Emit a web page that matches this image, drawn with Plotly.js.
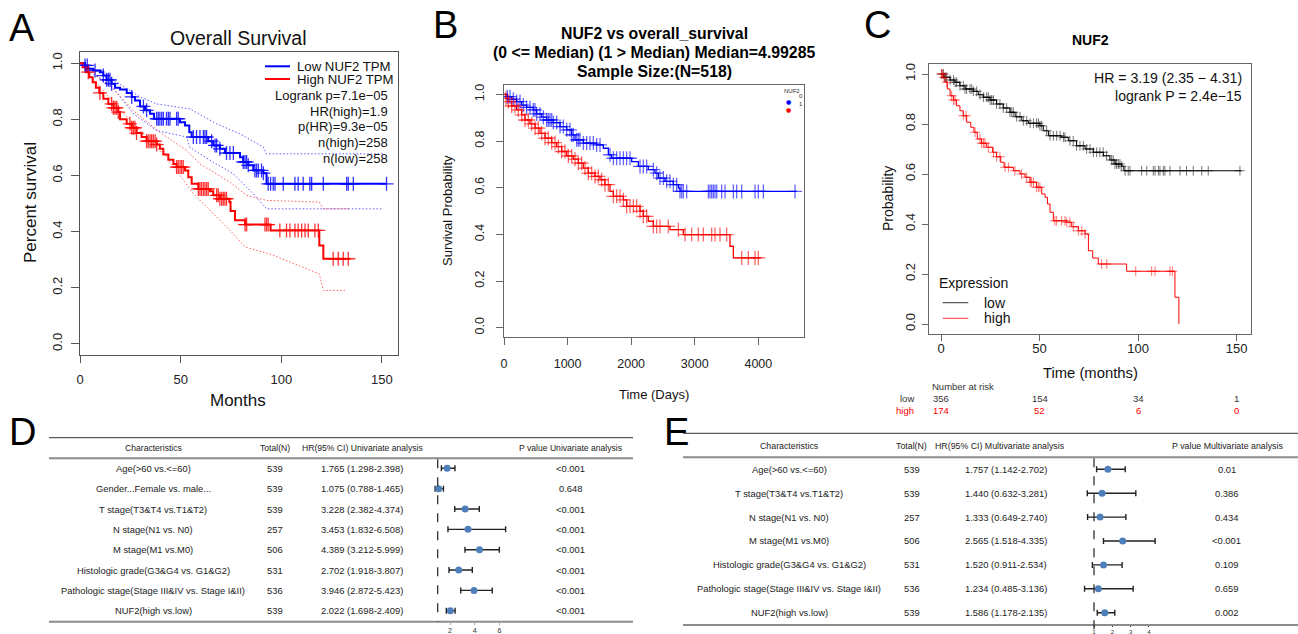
<!DOCTYPE html>
<html><head><meta charset="utf-8">
<script src="https://cdn.plot.ly/plotly-3.0.1.min.js"></script>
<style>html,body{margin:0;padding:0;background:#fff;}#chart{width:1298px;height:634px;}</style>
</head><body><div id="chart"></div>
<script>
// ---------- Panel A (GEPIA, months) ----------
const aLowT=[0,2.5,4.1,6.6,9.9,11.6,13.2,15.7,17.4,19.9,23.2,25.7,27.3,29.8,32.3,34.8,36.8,49.7,52.2,54.3,55.5,63.7,66.2,69.5,72,79.5,81.1,83.6,86.1,91.1,92.7,152.3];
const aLowS=[1,0.992,0.98,0.974,0.968,0.956,0.941,0.927,0.913,0.906,0.894,0.88,0.867,0.846,0.832,0.82,0.802,0.79,0.778,0.754,0.737,0.722,0.707,0.695,0.68,0.665,0.648,0.636,0.618,0.608,0.57,0.57];
const aHighT=[0,1.3,3,4.6,6.3,7.9,9.6,11.6,14.1,16.6,19,19.9,23.2,25.7,28.1,30.6,33.1,38.1,39.7,41.4,43.9,46.4,48,52.2,53.8,55.5,58.8,64.6,66.2,69.5,74.2,74.8,77,82,94.7,118.9,120.9,134.4];
const aHighS=[1,0.986,0.968,0.95,0.932,0.913,0.894,0.873,0.855,0.841,0.826,0.80,0.784,0.77,0.751,0.737,0.722,0.71,0.695,0.675,0.656,0.641,0.63,0.618,0.594,0.57,0.552,0.544,0.529,0.517,0.505,0.473,0.44,0.425,0.404,0.35,0.303,0.303];
const aLowUpT=[0,3.3,16.6,29.8,38.1,53,54.6,67.9,79.5,91.1,92.7,150.7];
const aLowUpS=[1,0.99,0.94,0.88,0.855,0.84,0.837,0.784,0.748,0.701,0.677,0.677];
const aLowLoT=[0,3.3,9.9,16.6,26.5,38.1,53,54.6,66.2,76.2,86.1,92.7,150.7];
const aLowLoS=[1,0.975,0.948,0.909,0.82,0.76,0.737,0.70,0.647,0.606,0.535,0.481,0.481];
const aHighUpT=[0,3.3,9.9,16.6,26.5,39.7,53,59.6,74.5,82.8,92.7,118.9,120.9,134.4];
const aHighUpS=[1,0.986,0.944,0.909,0.831,0.754,0.689,0.641,0.576,0.529,0.511,0.505,0.481,0.481];
const aHighLoT=[0,3.3,9.9,16.6,29.8,43,56.3,66.2,76.2,82,95.2,118.9,120.9,131.6];
const aHighLoS=[1,0.968,0.915,0.861,0.76,0.665,0.535,0.463,0.392,0.345,0.318,0.249,0.19,0.19];
const aLowCens=[2.5,3.6,7.5,11.6,13.2,14.1,14.9,15.7,25.7,31.5,33.1,38.1,38.9,39.7,40.6,41.4,43.0,43.9,44.7,48.0,48.8,56.3,57.9,59.6,61.3,62.1,62.9,65.4,67.1,67.9,69.5,72.8,74.5,76.2,81.1,82.0,82.8,83.6,86.9,87.7,88.6,90.2,91.1,93.5,94.7,96.0,96.9,101,106.8,108.4,110.9,114.2,115.1,120.9,132.5,133.3,135.8,152.3];
const aHighCens=[4.1,9.9,15.7,16.6,17.4,18.2,19.0,24.8,25.7,26.5,27.3,28.1,33.1,33.9,34.8,35.6,36.4,37.3,38.1,48.0,48.8,49.7,50.5,51.3,58.8,59.6,60.4,61.3,62.1,62.9,63.7,67.9,68.7,69.5,70.4,71.2,72.0,72.8,82.0,82.8,91.9,92.7,93.5,99.3,102.6,104.3,106.8,108.4,110.1,111.8,113.4,116.7,118.4,125.8,128.3,130.8,133.3];
const aTicksX=[0,50,100,150];
const probTicks=[0,0.2,0.4,0.6,0.8,1.0];
const probLabels=['0.0','0.2','0.4','0.6','0.8','1.0'];
const aLegend=['Low NUF2 TPM','High NUF2 TPM'];
const aStats=['Logrank p=7.1e\u221205','HR(high)=1.9','p(HR)=9.3e\u221205','n(high)=258','n(low)=258'];

// ---------- Panel B (days) ----------
const bLowT=[0,52,121,199,278,356,461,514,592,671,776,881,986,1064,1117,1248,1457,1562,1641,1693,2008,2113,2270,2375,2427,2532,2663,2742,2768,4603];
const bLowS=[1,0.99,0.979,0.969,0.954,0.944,0.933,0.916,0.902,0.89,0.879,0.862,0.848,0.826,0.805,0.791,0.783,0.769,0.741,0.726,0.712,0.691,0.677,0.662,0.641,0.627,0.613,0.598,0.584,0.584];
const bHighT=[0,31,68,121,199,278,330,409,488,566,645,750,828,907,986,1090,1169,1248,1326,1431,1510,1588,1667,1720,1877,1929,2139,2191,2270,2349,2611,2820,3554,3607,4037];
const bHighS=[1,0.983,0.969,0.95,0.933,0.912,0.89,0.873,0.855,0.833,0.812,0.793,0.776,0.755,0.736,0.722,0.705,0.684,0.662,0.648,0.634,0.613,0.584,0.563,0.548,0.52,0.499,0.477,0.456,0.434,0.42,0.399,0.349,0.299,0.299];
const bLowCens=[52,94,147,199,252,304,356,409,461,488,514,566,619,671,697,723,750,776,828,881,933,986,1038,1064,1090,1143,1169,1195,1248,1300,1352,1405,1457,1510,1667,1720,1772,1824,1877,1929,1982,2139,2191,2244,2349,2401,2453,2506,2558,2611,2663,2716,2768,2794,2820,2873,3214,3240,3266,3292,3318,3345,3423,3476,3607,3659,3738,3948,4000,4079,4577];
const bHighCens=[31,68,121,173,225,278,330,383,435,488,540,592,645,697,750,802,855,907,959,1012,1064,1117,1169,1221,1274,1326,1379,1431,1484,1536,1588,1641,1720,1772,1824,1877,1929,1982,2034,2086,2139,2191,2244,2349,2401,2453,2584,2742,2847,2951,3056,3135,3266,3318,3397,3502,3738,3843,3948,4000];
const bTicksX=[0,1000,2000,3000,4000];
const bTitle=['NUF2 vs overall_survival','(0 <= Median) (1 > Median) Median=4.99285','Sample Size:(N=518)'];
const bLegend=['NUF2','0','1'];

// ---------- Panel C (KM plotter, months) ----------
const cLowT=[0,2,4.6,7.1,9.6,12.2,16.4,18.9,21.5,24.9,28.2,31.6,35,37.6,41,44.3,50.2,51.9,54.5,61.2,64.6,68.8,73.1,77.3,82.4,85.7,88.3,91.7,92.8,152.5];
const cLowS=[1,0.987,0.976,0.967,0.953,0.94,0.931,0.917,0.907,0.896,0.88,0.864,0.847,0.829,0.813,0.803,0.793,0.773,0.753,0.747,0.733,0.713,0.7,0.687,0.673,0.656,0.64,0.631,0.613,0.613];
const cHighT=[0,1.2,2,3.2,4.6,6.3,7.9,9.6,11.3,13,15.1,16.7,18.4,20.6,23.2,26.2,28.2,30.3,32,36.7,40.1,42.6,45.2,48.5,51.1,52.8,54,55.3,57,63.8,66.3,69.7,73.1,74.8,77,79.8,94.2,118.7,120.7];
const cHighS=[1,0.987,0.967,0.94,0.913,0.896,0.873,0.853,0.833,0.807,0.787,0.767,0.74,0.723,0.707,0.687,0.669,0.647,0.627,0.613,0.6,0.587,0.567,0.547,0.52,0.507,0.48,0.447,0.413,0.407,0.389,0.373,0.36,0.293,0.264,0.24,0.211,0.107,0];
const cLowCens=[0.3,1.2,2.0,2.9,4.6,6.3,7.1,7.9,9.6,11.3,12.2,13.0,14.7,15.6,16.4,18.1,19.8,21.5,23.2,24.0,24.9,25.7,26.6,28.2,29.9,31.6,33.3,35.0,35.9,36.7,38.4,40.1,41.8,43.5,45.2,46.9,48.5,49.4,50.2,51.1,53.6,55.3,57.0,58.7,60.4,62.1,62.9,65.4,67.1,68.8,70.5,72.2,73.9,75.6,77.3,79.0,80.6,82.3,84.0,86.6,87.4,88.3,89.1,90.0,90.8,91.7,93.4,95.0,95.9,101.8,104.4,107.7,108.6,110.3,111.1,112.8,113.6,116.2,121.3,124.6,128.0,132.3,135.6,151.7];
const cHighCens=[0.3,0.8,1.5,2.9,5.4,6.3,7.1,11.3,12.7,17.3,19.8,20.6,21.5,22.3,24.0,26.6,28.2,29.9,32.5,34.2,37.5,40.9,43.5,45.2,46.0,46.9,48.5,49.4,50.2,57.8,58.7,61.2,62.9,63.8,65.4,67.1,69.7,71.4,73.1,81.5,84.1,98.8,106.9,108.6,116.2,117.4];
const cTicksX=[0,50,100,150];
const cStats=['HR = 3.19 (2.35 \u2212 4.31)','logrank P = 2.4e\u221215'];
const cLegend=['Expression','low','high'];
const riskTimes=[0,50,100,150];
const riskLow=[356,154,34,1];
const riskHigh=[174,52,6,0];

// ---------- Panel D (univariate Cox) ----------
const dHeaders=['Characteristics','Total(N)','HR(95% CI) Univariate analysis','P value Univariate analysis'];
const dCats=['Age(>60 vs.<=60)','Gender...Female vs. male...','T stage(T3&T4 vs.T1&T2)','N stage(N1 vs. N0)','M stage(M1 vs.M0)','Histologic grade(G3&G4 vs. G1&G2)','Pathologic stage(Stage III&IV vs. Stage I&II)','NUF2(high vs.low)'];
const dN=[539,539,539,257,506,531,536,539];
const dHR=[1.765,1.075,3.228,3.453,4.389,2.702,3.946,2.022];
const dLo=[1.298,0.788,2.382,1.832,3.212,1.918,2.872,1.698];
const dHi=[2.398,1.465,4.374,6.508,5.999,3.807,5.423,2.409];
const dP=['<0.001','0.648','<0.001','<0.001','<0.001','<0.001','<0.001','<0.001'];
const dTicks=[2,4,6];

// ---------- Panel E (multivariate Cox) ----------
const eHeaders=['Characteristics','Total(N)','HR(95% CI) Multivariate analysis','P value Multivariate analysis'];
const eCats=['Age(>60 vs.<=60)','T stage(T3&T4 vs.T1&T2)','N stage(N1 vs. N0)','M stage(M1 vs.M0)','Histologic grade(G3&G4 vs. G1&G2)','Pathologic stage(Stage III&IV vs. Stage I&II)','NUF2(high vs.low)'];
const eN=[539,539,257,506,531,536,539];
const eHR=[1.757,1.440,1.333,2.565,1.520,1.234,1.586];
const eLo=[1.142,0.632,0.649,1.518,0.911,0.485,1.178];
const eHi=[2.702,3.281,2.740,4.335,2.534,3.136,2.135];
const eP=['0.01','0.386','0.434','<0.001','0.109','0.659','0.002'];
const eTicks=[1,2,3,4];

// ---------- drawing ----------
const W=1298,H=634;
const px=x=>x/W, py=y=>1-y/H;
const FONT='Liberation Sans, Arial, Helvetica, sans-serif';
const esc=s=>String(s).replace(/&/g,'&amp;').replace(/</g,'&lt;').replace(/>/g,'&gt;');
function stepAt(T,S,t){let v=S[0];for(let i=0;i<T.length;i++){if(T[i]<=t)v=S[i];else break;}return v;}

const traces=[];
function line(T,S,color,width,xa,ya,dash,shape){traces.push({x:T,y:S,mode:'lines',line:{color:color,width:width,shape:shape||'hv',dash:dash||'solid'},xaxis:xa,yaxis:ya,hoverinfo:'skip',showlegend:false});}
function cens(T,S,ct,color,size,lw,xa,ya){traces.push({x:ct,y:ct.map(t=>stepAt(T,S,t)),mode:'markers',marker:{symbol:'cross-thin-open',size:size,color:color,line:{color:color,width:lw}},xaxis:xa,yaxis:ya,hoverinfo:'skip',showlegend:false});}

const DOTS='1.5px,2px';
// A
line(aLowUpT,aLowUpS,'rgba(40,40,255,0.75)',1,'x','y',DOTS,'linear');
line(aLowLoT,aLowLoS,'rgba(40,40,255,0.75)',1,'x','y',DOTS,'linear');
line(aHighUpT,aHighUpS,'rgba(255,40,40,0.75)',1,'x','y',DOTS,'linear');
line(aHighLoT,aHighLoS,'rgba(255,40,40,0.75)',1,'x','y',DOTS,'linear');
line(aLowT,aLowS,'#0000ff',2,'x','y');
line(aHighT,aHighS,'#ff0000',2,'x','y');
cens(aLowT,aLowS,aLowCens,'rgba(0,0,255,0.8)',10,1.3,'x','y');
cens(aHighT,aHighS,aHighCens,'rgba(255,0,0,0.8)',10,1.3,'x','y');
// B
line(bLowT,bLowS,'#0000ff',1.3,'x2','y2');
line(bHighT,bHighS,'#ff0000',1.3,'x2','y2');
cens(bLowT,bLowS,bLowCens,'rgba(0,0,255,0.6)',10,1.3,'x2','y2');
cens(bHighT,bHighS,bHighCens,'rgba(255,0,0,0.6)',10,1.3,'x2','y2');
// C
line(cLowT,cLowS,'#000000',1,'x3','y3');
line(cHighT,cHighS,'#ff0000',1,'x3','y3');
cens(cLowT,cLowS,cLowCens,'rgba(0,0,0,0.55)',7,1,'x3','y3');
cens(cHighT,cHighS,cHighCens,'rgba(255,0,0,0.55)',7,1,'x3','y3');
// D, E forest
function forest(hr,lo,hi,xa,ya){traces.push({x:hr,y:hr.map((v,i)=>i),mode:'markers',marker:{color:'#4f7fba',size:7},
  error_x:{type:'data',symmetric:false,array:hr.map((v,i)=>hi[i]-v),arrayminus:hr.map((v,i)=>v-lo[i]),color:'#222',thickness:1.4,width:3},
  xaxis:xa,yaxis:ya,hoverinfo:'skip',showlegend:false});}
forest(dHR,dLo,dHi,'x4','y4');
forest(eHR,eLo,eHi,'x5','y5');

function kmX(dom,range,ticks,anchor,lc,tl,fs,so){return {domain:[px(dom[0]),px(dom[1])],range:range,anchor:anchor,tickvals:ticks,ticktext:ticks.map(String),
  showline:true,mirror:true,linecolor:lc,linewidth:1,ticks:'outside',ticklen:tl,tickcolor:lc,tickwidth:1,showgrid:false,zeroline:false,
  tickfont:{family:FONT,size:fs,color:'#222'},ticklabelstandoff:so,fixedrange:true};}
function kmY(dom,anchor,lc,tl,fs,so){return {domain:[py(dom[1]),py(dom[0])],range:[-0.04,1.04],anchor:anchor,tickvals:probTicks,ticktext:probLabels,tickangle:-90,
  showline:true,mirror:true,linecolor:lc,linewidth:1,ticks:'outside',ticklen:tl,tickcolor:lc,tickwidth:1,showgrid:false,zeroline:false,
  tickfont:{family:FONT,size:fs,color:'#222'},ticklabelstandoff:so,fixedrange:true};}

const layout={width:W,height:H,margin:{l:0,r:0,t:0,b:0},paper_bgcolor:'#fff',plot_bgcolor:'rgba(0,0,0,0)',showlegend:false,hovermode:false,
  xaxis:kmX([80,398],[0,158],aTicksX,'y','#555',7,13,5),
  yaxis:kmY([52,355],'x','#555',8,13,4),
  xaxis2:kmX([504,804],[0,4718],bTicksX,'y2','#666',7,12.5,8),
  yaxis2:kmY([85,337],'x2','#666',7,12.5,7),
  xaxis3:kmX([929,1251],[-6.1,157.3],cTicksX,'y3','#666',6,13,-4),
  yaxis3:kmY([64,334],'x3','#666',6,13,2),
  xaxis4:{domain:[px(400),px(540)],range:[-2.058,9.297],anchor:'y4',tickvals:dTicks,ticktext:dTicks.map(String),showline:false,showgrid:false,zeroline:false,ticks:'outside',ticklen:2,tickcolor:'#aaa',tickfont:{family:FONT,size:7,color:'#333'},fixedrange:true},
  yaxis4:{domain:[py(621.7),py(437.7)],range:[7.538,-1.504],anchor:'x4',visible:false,fixedrange:true},
  xaxis5:{domain:[px(1040),px(1200)],range:[-1.946,6.783],anchor:'y5',tickvals:eTicks,ticktext:eTicks.map(String),showline:false,showgrid:false,zeroline:false,ticks:'outside',ticklen:1,tickcolor:'#333',tickfont:{family:FONT,size:6,color:'#333'},fixedrange:true},
  yaxis5:{domain:[py(625),py(433.3)],range:[6.515,-1.506],anchor:'x5',visible:false,fixedrange:true},
  shapes:[],annotations:[]};

const A=layout.annotations, S=layout.shapes;
function t(text,x,y,o){o=o||{};A.push({text:text,x:px(x),y:py(y),xref:'paper',yref:'paper',showarrow:false,xanchor:o.xa||'center',yanchor:o.ya||'middle',textangle:o.ang||0,
  font:{family:FONT,size:o.size||12,color:o.color||'#111'}});}
function seg(x0,y0,x1,y1,color,w,dash){S.push({type:'line',xref:'paper',yref:'paper',x0:px(x0),y0:py(y0),x1:px(x1),y1:py(y1),line:{color:color,width:w,dash:dash||'solid'}});}

// letters
t('A',22,28,{size:38,color:'#000'}); t('B',445,25,{size:38,color:'#000'}); t('C',877,25,{size:38,color:'#000'});
t('D',22,432,{size:38,color:'#000'}); t('E',677,432,{size:38,color:'#000'});

// A texts
t('Overall Survival',238,38,{size:19.5});
t('Percent survival',30,203,{size:17,ang:-90});
t('Months',238,401,{size:17});
seg(265,66.3,290,66.3,'#0000ff',2); seg(265,79,290,79,'#ff0000',2);
t(aLegend[0],295,66.3,{xa:'left',size:13.2}); t(aLegend[1],295,79,{xa:'left',size:13.2});
aStats.forEach((s,i)=>t(s,389.5,95.3+i*15.85,{xa:'right',size:13}));

// B texts
bTitle.forEach((s,i)=>t('<b>'+esc(s)+'</b>',654,33.3+i*19.2,{size:15.8,color:'#000'}));
t('Survival Probability',448,211,{size:13,ang:-90});
t('Time (Days)',654,394,{size:13});
t(bLegend[0],792,91,{size:6,color:'#333'});
A.push({text:'\u25CF',x:px(788.7),y:py(96),xref:'paper',yref:'paper',showarrow:false,font:{family:'DejaVu Sans',size:6,color:'#0000ff'}});
A.push({text:'\u25CF',x:px(788.7),y:py(104.3),xref:'paper',yref:'paper',showarrow:false,font:{family:'DejaVu Sans',size:6,color:'#ff0000'}});
t(bLegend[1],797,96,{size:6,color:'#333',xa:'left'}); t(bLegend[2],797,104.3,{size:6,color:'#333',xa:'left'});

// C texts
t('<b>NUF2</b>',1090,40,{size:14,color:'#000'});
t('Probability',888,199,{size:14,ang:-90});
t('Time (months)',1090,373,{size:14.8});
cStats.forEach((s,i)=>t(s,1244,78.3+i*17.7,{xa:'right',size:14.1}));
t(cLegend[0],936.7,282.7,{xa:'left',size:14});
seg(942.7,302.7,968.3,302.7,'#333',1); seg(942.7,318.3,968.3,318.3,'#ff3333',1);
t(cLegend[1],981.7,302.7,{xa:'left',size:14}); t(cLegend[2],981.7,318.3,{xa:'left',size:14});
t('Number at risk',930,386.7,{xa:'left',size:9.5,color:'#333'});
t('low',916,398.3,{xa:'right',size:9.5,color:'#333'}); t('high',916,410,{xa:'right',size:9.5,color:'#ff0000'});
riskTimes.forEach((tm,i)=>{
  A.push({text:String(riskLow[i]),x:tm,xref:'x3',y:py(398.3),yref:'paper',showarrow:false,font:{family:FONT,size:9.5,color:'#333'}});
  A.push({text:String(riskHigh[i]),x:tm,xref:'x3',y:py(410),yref:'paper',showarrow:false,font:{family:FONT,size:9.5,color:'#ff0000'}});
});

// tables
const fmt=(h,l,u)=>h.toFixed(3)+' ('+l.toFixed(3)+'-'+u.toFixed(3)+')';
function table(cats,N,HR,LO,HI,P,hdr,cols,hdrY,lines,xa,ya,fs,hfs){
  t(hdr[0],cols[0],hdrY,{size:hfs,color:'#222'}); t(hdr[1],cols[1],hdrY,{size:hfs,color:'#222'});
  t(esc(hdr[2]),cols[4],hdrY,{size:hfs,color:'#222',xa:'left'}); t(hdr[3],cols[3]+0.7,hdrY,{size:hfs,color:'#222'});
  cats.forEach((c,i)=>{
    const row=[esc(c),String(N[i]),fmt(HR[i],LO[i],HI[i]),esc(P[i])];
    [0,1,2,3].forEach(k=>A.push({text:row[k],x:px(cols[k]),xref:'paper',y:i,yref:ya,showarrow:false,xanchor:'center',yanchor:'middle',font:{family:FONT,size:fs,color:'#222'}}));
  });
  seg(lines[0],lines[1],lines[2],lines[1],'#333',1);
  seg(lines[0],lines[3],lines[2],lines[3],'#8c8c8c',2);
  seg(lines[0],lines[4],lines[2],lines[4],'#8c8c8c',2);
  S.push({type:'line',xref:xa,yref:'paper',x0:1,x1:1,y0:py(lines[3]+1),y1:py(lines[5]),line:{color:'#222',width:1.2,dash:'dash'}});
}
table(dCats,dN,dHR,dLo,dHi,dP,dHeaders,[153,275,361.7,570,300],448.3,[49,437.7,633,458.3,621.7,621.7],'x4','y4',9.4,8.6);
table(eCats,eN,eHR,eLo,eHi,eP,eHeaders,[789.3,911.7,1006,1226.7,932.7],445.7,[683,433.3,1298,457.3,625,634],'x5','y5',9.4,8.8);

Plotly.newPlot('chart',traces,layout,{displayModeBar:false,staticPlot:true});
</script></body></html>
